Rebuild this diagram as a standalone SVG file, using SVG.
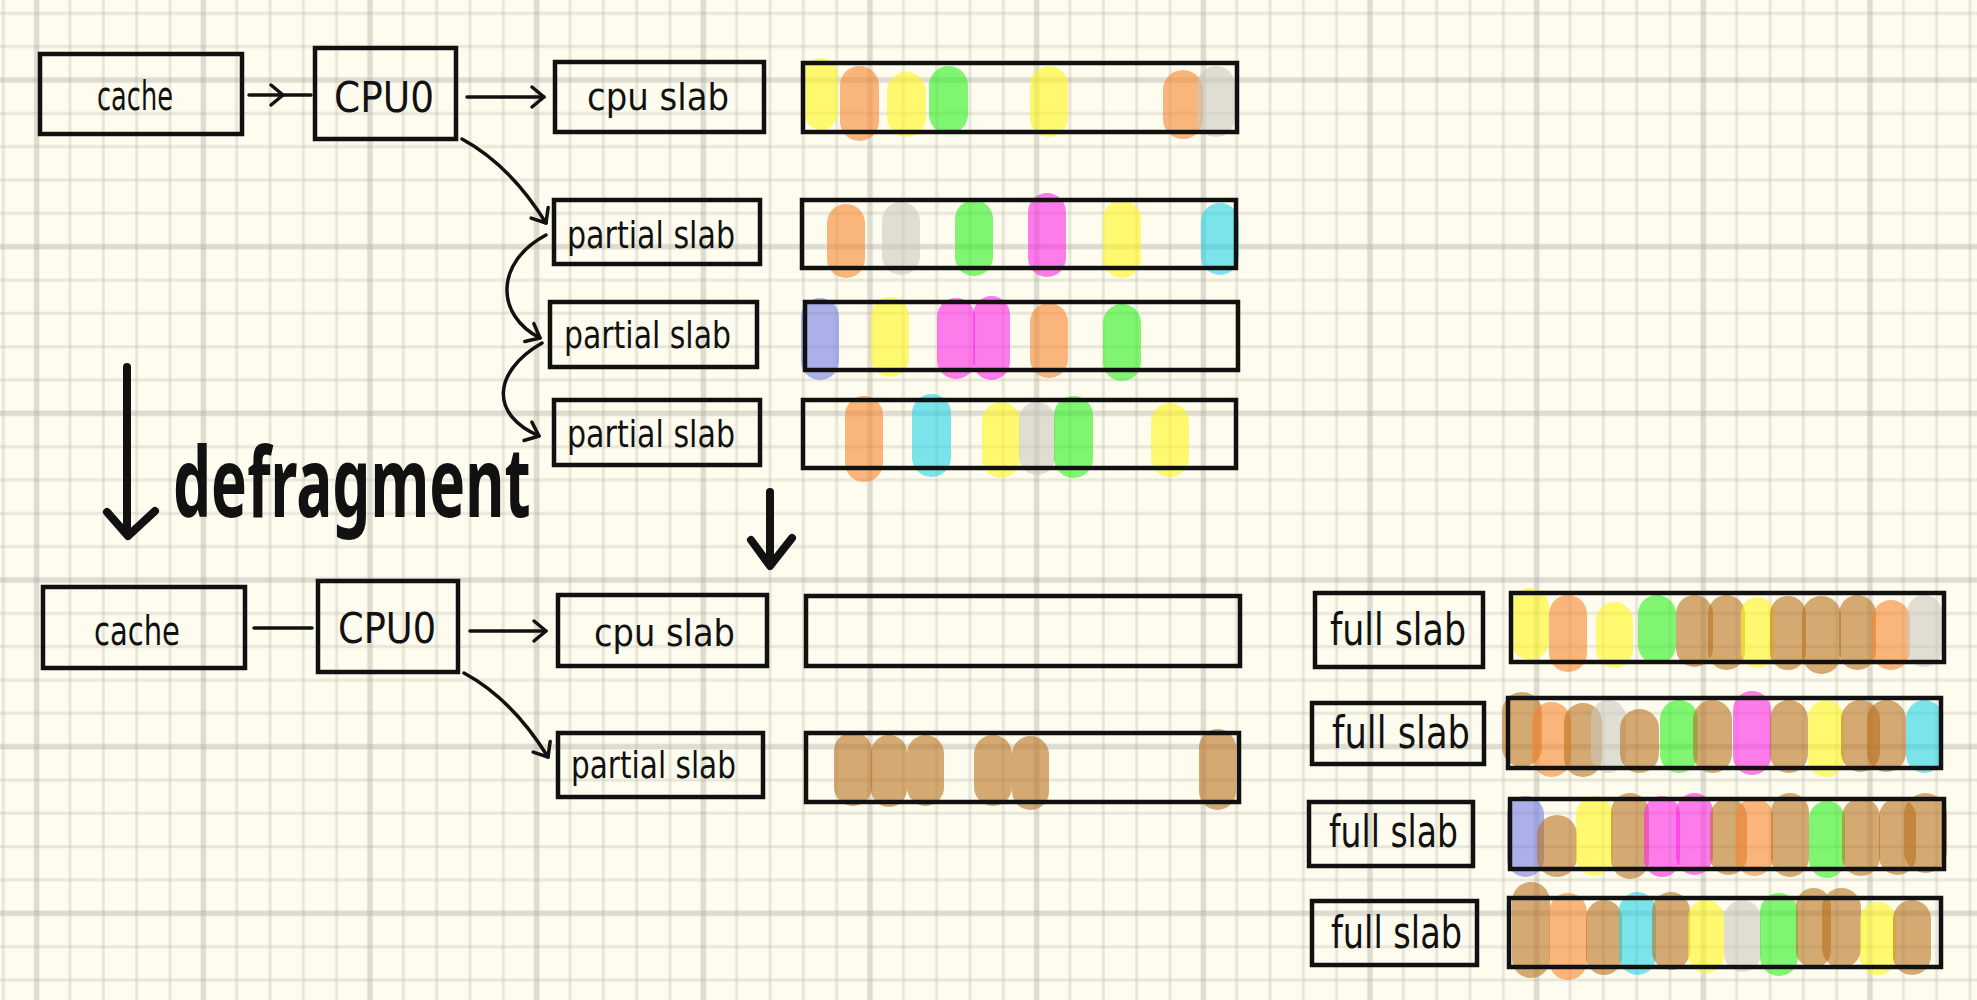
<svg xmlns="http://www.w3.org/2000/svg" width="1977" height="1000" viewBox="0 0 1977 1000">
<defs>
<style>
.bg{fill:#FEFCEE}
.gmin{stroke:#BFBDB2;stroke-opacity:0.35;stroke-width:3;fill:none}
.gmaj{stroke:#A3A098;stroke-opacity:0.35;stroke-width:5.5;fill:none}
.box{fill:none;stroke:#111;stroke-width:4.5}
.bar{fill:none;stroke:#111;stroke-width:4.5}
.t{font-family:"Liberation Sans Narrow","DejaVu Sans Condensed","Noto Sans",sans-serif;fill:#111;font-weight:400}
.con{fill:none;stroke:#111;stroke-width:3.5;stroke-linecap:round;stroke-linejoin:round}
.big{fill:none;stroke:#111;stroke-width:8;stroke-linecap:round;stroke-linejoin:round}
.df{font-family:"Noto Sans","DejaVu Sans",sans-serif;font-weight:700;fill:#111}
.p{opacity:0.6}
.y{fill:#FFF71C}.o{fill:#F7862E}.g{fill:#2BF01E}.gr{fill:#CBC8BF}
.m{fill:#FD27E7}.c{fill:#23D2E7}.l{fill:#737DE4}.b{fill:#B7721F}
</style>
<pattern id="grid" patternUnits="userSpaceOnUse" x="-46.667" y="-3.333" width="166.667" height="166.667">
<rect class="bg" x="0" y="0" width="166.667" height="166.667"/>
<path class="gmin" d="M16.667,0V166.667M50,0V166.667M116.667,0V166.667M150,0V166.667"/>
<path class="gmin" d="M0,16.667H166.667M0,50H166.667M0,116.667H166.667M0,150H166.667"/>
<path class="gmaj" d="M83.333,0V166.667"/>
<path class="gmaj" d="M0,83.333H166.667"/>
</pattern>
<marker id="ah" markerUnits="userSpaceOnUse" markerWidth="40" markerHeight="40" viewBox="-20 -20 40 40" refX="0" refY="0" orient="auto" overflow="visible">
<path d="M-12,-10 L0,0 L-12,10" fill="none" stroke="#111" stroke-width="3.5" stroke-linecap="round" stroke-linejoin="round"/>
</marker>
</defs>
<rect x="0" y="0" width="1977" height="1000" fill="url(#grid)"/>

<!-- top section -->
<g id="cache-top"><rect class="box" x="40" y="54" width="202" height="80"/><text class="t" x="97" y="110" font-size="40" textLength="76" lengthAdjust="spacingAndGlyphs">cache</text></g>
<g id="cpu0-top"><rect class="box" x="315" y="48" width="141" height="91"/><text class="t" x="334" y="112" font-size="42" textLength="100" lengthAdjust="spacingAndGlyphs">CPU0</text></g>
<g id="cpuslab-top"><rect class="box" x="555" y="62" width="209" height="70"/><text class="t" x="587" y="110" font-size="38" textLength="142" lengthAdjust="spacingAndGlyphs">cpu slab</text></g>
<g id="partial1"><rect class="box" x="554" y="200" width="206" height="64"/><text class="t" x="567" y="248" font-size="38" textLength="168" lengthAdjust="spacingAndGlyphs">partial slab</text></g>
<g id="partial2"><rect class="box" x="550" y="302" width="207" height="65"/><text class="t" x="564" y="348" font-size="38" textLength="167" lengthAdjust="spacingAndGlyphs">partial slab</text></g>
<g id="partial3"><rect class="box" x="554" y="400" width="206" height="65"/><text class="t" x="567" y="447" font-size="38" textLength="168" lengthAdjust="spacingAndGlyphs">partial slab</text></g>

<g id="bar-cpu-top">
<rect class="p y" x="804" y="58" width="34" height="72" rx="17"/>
<rect class="p o" x="840" y="66" width="39" height="75" rx="19.5"/>
<rect class="p y" x="887" y="72" width="39" height="65" rx="19.5"/>
<rect class="p g" x="929" y="66" width="39" height="68" rx="19.5"/>
<rect class="p y" x="1030" y="66" width="38" height="71" rx="19"/>
<rect class="p o" x="1163" y="70" width="40" height="69" rx="20"/>
<rect class="p gr" x="1197" y="66" width="38" height="71" rx="19"/>
<rect class="bar" x="803" y="63" width="434" height="69"/>
</g>
<g id="bar-partial1">
<rect class="p o" x="827" y="204" width="38" height="74" rx="19"/>
<rect class="p gr" x="882" y="202" width="38" height="73" rx="19"/>
<rect class="p g" x="955" y="200" width="38" height="76" rx="19"/>
<rect class="p m" x="1028" y="193" width="38" height="84" rx="19"/>
<rect class="p y" x="1103" y="200" width="38" height="78" rx="19"/>
<rect class="p c" x="1201" y="203" width="38" height="72" rx="19"/>
<rect class="bar" x="802" y="200" width="434" height="68"/>
</g>
<g id="bar-partial2">
<rect class="p l" x="801" y="298" width="38" height="82" rx="19"/>
<rect class="p y" x="871" y="297" width="38" height="80" rx="19"/>
<rect class="p m" x="937" y="298" width="38" height="81" rx="19"/>
<rect class="p m" x="973" y="296" width="37" height="84" rx="18.5"/>
<rect class="p o" x="1030" y="303" width="38" height="75" rx="19"/>
<rect class="p g" x="1103" y="304" width="38" height="77" rx="19"/>
<rect class="bar" x="805" y="302" width="433" height="68"/>
</g>
<g id="bar-partial3">
<rect class="p o" x="845" y="396" width="38" height="86" rx="19"/>
<rect class="p c" x="912" y="394" width="39" height="83" rx="19.5"/>
<rect class="p y" x="982" y="402" width="38" height="76" rx="19"/>
<rect class="p gr" x="1019" y="402" width="36" height="73" rx="18"/>
<rect class="p g" x="1054" y="396" width="39" height="82" rx="19.5"/>
<rect class="p y" x="1151" y="403" width="38" height="74" rx="19"/>
<rect class="bar" x="803" y="400" width="433" height="68"/>
</g>

<!-- defragment -->
<g id="defragment">
<path class="big" d="M127,367 L127,534 M107,512 L128,536 L155,511"/>
<text class="df" transform="translate(173,517) scale(0.68,1)" x="0" y="0" font-size="96" textLength="526" lengthAdjust="spacingAndGlyphs">defragment</text>
<path class="big" stroke-width="7" d="M770,492 L770,565 M751,540 L770,566 L792,538"/>
</g>

<!-- bottom section -->
<g id="cache-bottom"><rect class="box" x="43" y="587" width="202" height="81"/><text class="t" x="94" y="645" font-size="40" textLength="86" lengthAdjust="spacingAndGlyphs">cache</text></g>
<g id="cpu0-bottom"><rect class="box" x="318" y="581" width="140" height="91"/><text class="t" x="338" y="643" font-size="42" textLength="98" lengthAdjust="spacingAndGlyphs">CPU0</text></g>
<g id="cpuslab-bottom"><rect class="box" x="558" y="595" width="209" height="71"/><text class="t" x="594" y="646" font-size="38" textLength="141" lengthAdjust="spacingAndGlyphs">cpu slab</text></g>
<g id="partial-bottom"><rect class="box" x="558" y="733" width="205" height="64"/><text class="t" x="571" y="778" font-size="38" textLength="165" lengthAdjust="spacingAndGlyphs">partial slab</text></g>

<g id="bar-cpu-bottom"><rect class="bar" x="806" y="596" width="434" height="70"/></g>
<g id="bar-partial-bottom">
<rect class="p b" x="834" y="732" width="38" height="74" rx="19"/>
<rect class="p b" x="871" y="735" width="36" height="72" rx="18"/>
<rect class="p b" x="907" y="735" width="37" height="71" rx="18.5"/>
<rect class="p b" x="974" y="735" width="38" height="71" rx="19"/>
<rect class="p b" x="1012" y="736" width="37" height="74" rx="18.5"/>
<rect class="p b" x="1199" y="729" width="37" height="81" rx="18.5"/>
<rect class="bar" x="806" y="733" width="433" height="69"/>
</g>

<g id="full1"><rect class="box" x="1315" y="593" width="168" height="74"/><text class="t" x="1330" y="645" font-size="44" textLength="136" lengthAdjust="spacingAndGlyphs">full slab</text></g>
<g id="full2"><rect class="box" x="1312" y="703" width="172" height="61"/><text class="t" x="1332" y="748" font-size="44" textLength="138" lengthAdjust="spacingAndGlyphs">full slab</text></g>
<g id="full3"><rect class="box" x="1309" y="802" width="164" height="64"/><text class="t" x="1329" y="847" font-size="44" textLength="129" lengthAdjust="spacingAndGlyphs">full slab</text></g>
<g id="full4"><rect class="box" x="1312" y="901" width="165" height="64"/><text class="t" x="1331" y="948" font-size="44" textLength="131" lengthAdjust="spacingAndGlyphs">full slab</text></g>

<g id="bar-full1">
<rect class="p y" x="1511" y="588" width="38" height="72" rx="19"/>
<rect class="p o" x="1549" y="595" width="38" height="77" rx="19"/>
<rect class="p y" x="1596" y="602" width="37" height="66" rx="18.5"/>
<rect class="p g" x="1638" y="595" width="38" height="69" rx="19"/>
<rect class="p b" x="1676" y="595" width="37" height="72" rx="18.5"/>
<rect class="p b" x="1708" y="595" width="37" height="75" rx="18.5"/>
<rect class="p y" x="1741" y="597" width="33" height="71" rx="16.5"/>
<rect class="p b" x="1770" y="596" width="36" height="74" rx="18"/>
<rect class="p b" x="1802" y="596" width="39" height="78" rx="19.5"/>
<rect class="p b" x="1839" y="595" width="37" height="75" rx="18.5"/>
<rect class="p o" x="1872" y="600" width="38" height="70" rx="19"/>
<rect class="p gr" x="1907" y="595" width="35" height="72" rx="17.5"/>
<rect class="bar" x="1511" y="593" width="433" height="69"/>
</g>
<g id="bar-full2">
<rect class="p b" x="1502" y="692" width="40" height="75" rx="20"/>
<rect class="p o" x="1532" y="702" width="39" height="75" rx="19.5"/>
<rect class="p b" x="1564" y="703" width="38" height="74" rx="19"/>
<rect class="p gr" x="1591" y="700" width="35" height="73" rx="17.5"/>
<rect class="p b" x="1620" y="709" width="39" height="64" rx="19.5"/>
<rect class="p g" x="1660" y="700" width="38" height="73" rx="19"/>
<rect class="p b" x="1693" y="700" width="39" height="73" rx="19.5"/>
<rect class="p m" x="1733" y="691" width="38" height="84" rx="19"/>
<rect class="p b" x="1770" y="700" width="38" height="73" rx="19"/>
<rect class="p y" x="1808" y="700" width="36" height="77" rx="18"/>
<rect class="p b" x="1841" y="700" width="39" height="72" rx="19.5"/>
<rect class="p b" x="1867" y="700" width="39" height="72" rx="19.5"/>
<rect class="p c" x="1906" y="700" width="37" height="73" rx="18.5"/>
<rect class="bar" x="1508" y="698" width="433" height="70"/>
</g>
<g id="bar-full3">
<rect class="p l" x="1507" y="796" width="37" height="81" rx="18.5"/>
<rect class="p b" x="1537" y="815" width="40" height="62" rx="20"/>
<rect class="p y" x="1576" y="796" width="37" height="80" rx="18.5"/>
<rect class="p b" x="1611" y="793" width="38" height="86" rx="19"/>
<rect class="p m" x="1644" y="796" width="36" height="81" rx="18"/>
<rect class="p m" x="1676" y="793" width="37" height="82" rx="18.5"/>
<rect class="p b" x="1710" y="798" width="37" height="77" rx="18.5"/>
<rect class="p o" x="1736" y="798" width="37" height="78" rx="18.5"/>
<rect class="p b" x="1771" y="793" width="38" height="84" rx="19"/>
<rect class="p g" x="1809" y="801" width="36" height="77" rx="18"/>
<rect class="p b" x="1842" y="798" width="38" height="78" rx="19"/>
<rect class="p b" x="1879" y="798" width="37" height="77" rx="18.5"/>
<rect class="p b" x="1904" y="793" width="43" height="80" rx="21.5"/>
<rect class="bar" x="1510" y="799" width="434" height="70"/>
</g>
<g id="bar-full4">
<rect class="p b" x="1512" y="882" width="38" height="96" rx="19"/>
<rect class="p o" x="1549" y="893" width="38" height="87" rx="19"/>
<rect class="p b" x="1586" y="900" width="36" height="75" rx="18"/>
<rect class="p c" x="1619" y="892" width="37" height="83" rx="18.5"/>
<rect class="p b" x="1652" y="892" width="38" height="78" rx="19"/>
<rect class="p y" x="1688" y="900" width="36" height="73" rx="18"/>
<rect class="p gr" x="1724" y="900" width="37" height="72" rx="18.5"/>
<rect class="p g" x="1760" y="893" width="38" height="83" rx="19"/>
<rect class="p b" x="1796" y="888" width="35" height="80" rx="17.5"/>
<rect class="p b" x="1822" y="888" width="39" height="80" rx="19.5"/>
<rect class="p y" x="1860" y="902" width="36" height="73" rx="18"/>
<rect class="p b" x="1893" y="900" width="38" height="75" rx="19"/>
<rect class="bar" x="1509" y="898" width="432" height="69"/>
</g>

<g id="connectors">
<path class="con" d="M249,95 L283,95 L311,95" marker-mid="url(#ah)"/>
<path class="con" d="M467,97 L544,97" marker-end="url(#ah)"/>
<path class="con" d="M462,139 Q510,165 546,223" marker-end="url(#ah)"/>
<path class="con" d="M546,235 C495,262 495,315 540,338" marker-end="url(#ah)"/>
<path class="con" d="M542,343 C492,372 490,415 539,436" marker-end="url(#ah)"/>
<path class="con" d="M254,628 L312,628"/>
<path class="con" d="M470,631 L546,631" marker-end="url(#ah)"/>
<path class="con" d="M464,673 Q512,699 548,757" marker-end="url(#ah)"/>
</g>
</svg>
